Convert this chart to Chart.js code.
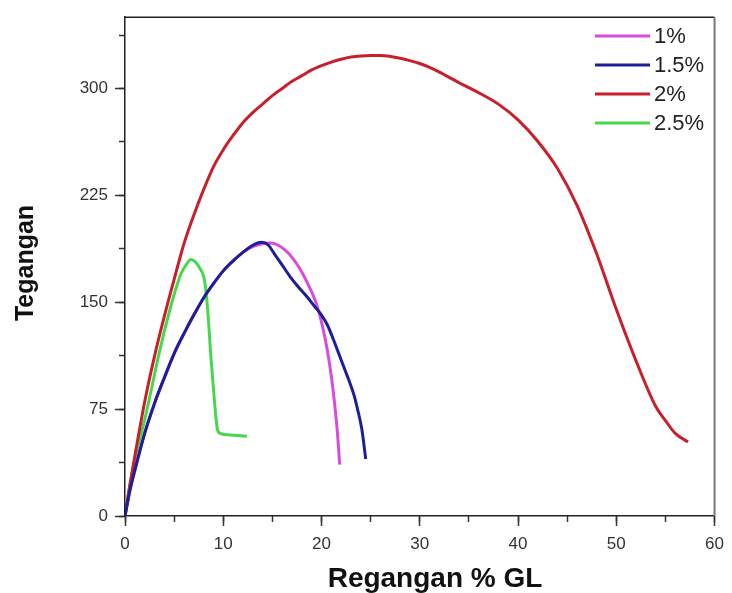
<!DOCTYPE html>
<html>
<head>
<meta charset="utf-8">
<script src="https://cdn.jsdelivr.net/npm/chart.js@4.4.1/dist/chart.umd.min.js"></script>
<style>
    html, body { margin: 0; padding: 0; background: #fff; }
    #wrap { width: 732px; height: 593px; position: relative; }
</style>
</head>
<body>
<div id="wrap"><canvas id="chart"></canvas></div>
<script>
// данные (деформация %, напряжение)
const seriesLabels = ['1%', '1.5%', '2%', '2.5%'];
const seriesColors = ['#d94bdc', '#1c1f98', '#c8202a', '#45d84a'];

const strain1 = [0, 0.5, 1, 2, 3, 4, 5, 6, 7, 8, 9, 10, 11, 12, 13, 14, 14.8, 15.6, 16.3, 17, 17.8, 18.6, 19.2, 19.7, 20.2, 20.6, 21, 21.3, 21.6, 21.85];
const stress1 = [0, 18, 32, 58, 79, 97, 114, 128, 141, 153, 163, 172, 179, 185, 189, 191, 191.5, 190, 186.5, 181.5, 173.5, 163, 154, 144, 130, 116, 98, 81, 60, 36];

const strain15 = [0, 0.5, 1, 2, 3, 4, 5, 6, 7, 8, 9, 10, 11, 12, 13, 13.9, 14.6, 15.2, 16, 16.8, 17.6, 18.5, 19.3, 20, 20.6, 21.2, 21.7, 22.3, 22.8, 23.3, 23.7, 24.1, 24.5];
const stress15 = [0, 18, 32, 58, 79, 97, 114, 128, 141, 153, 163, 172, 179, 185, 190, 192, 190, 184, 176, 168, 161, 154, 147, 141, 134, 124, 115, 104, 95, 85, 74, 61, 40];

const strain2 = [0, 0.5, 1, 2, 3, 4, 5, 6, 7, 8, 9, 10, 11, 12, 13, 14, 15, 16, 17, 18, 19, 20, 21, 22, 23, 24, 25, 26, 27, 28, 29, 30, 31, 32, 34, 36, 38, 40, 42, 44, 46, 48, 50, 52, 54, 55, 56, 57.3];
const stress2 = [0, 22, 42, 80, 112, 140, 166, 191, 211, 229, 245, 257, 267, 276, 283, 289, 295, 300, 305, 309, 313, 316, 318.5, 320.5, 322, 322.8, 323.2, 323.2, 322.5, 321.2, 319.5, 317.5, 314.8, 311.5, 304, 297, 289, 278, 263, 244, 218, 184, 145, 109, 77, 67, 58, 52];

const strain25 = [0, 0.5, 1, 1.85, 2.5, 3.5, 4.5, 5.2, 5.7, 6.2, 6.7, 7.2, 7.6, 8.1, 8.4, 8.75, 9.1, 9.4, 9.7, 10.5, 11.5, 12.4];
const stress25 = [0, 22, 40, 63, 83, 115, 143, 160, 170, 176, 180, 178, 174, 165, 146, 111, 81, 61, 58, 57, 56.5, 56];

const xTitle = 'Regangan % GL';
const yTitle = 'Tegangan';
const xMax = 60;
const yMax = 350;

const allStrain = [strain1, strain15, strain2, strain25];
const allStress = [stress1, stress15, stress2, stress25];
const drawOrder = [2, 0, 1, 3]; // синий поверх розового

const tickFont = { family: '"Liberation Sans", Arial, sans-serif', size: 17 };

function toPoints(xs, ys) {
    return xs.map((x, i) => ({ x: x, y: ys[i] }));
}

// рамка, подписи осей и легенда
const decorPlugin = {
    id: 'decor',
    afterDraw(chart) {
        const ctx = chart.ctx;
        const a = chart.chartArea;
        ctx.save();
        ctx.lineWidth = 1.5;
        ctx.strokeStyle = '#222';
        ctx.beginPath();
        ctx.moveTo(a.left, a.top);
        ctx.lineTo(a.right, a.top);
        ctx.stroke();
        ctx.lineWidth = 2;
        ctx.strokeStyle = '#777';
        ctx.beginPath();
        ctx.moveTo(a.right, a.top);
        ctx.lineTo(a.right, a.bottom);
        ctx.stroke();

        ctx.fillStyle = '#111';
        ctx.font = 'bold 28px "Liberation Sans", Arial, sans-serif';
        ctx.textAlign = 'center';
        ctx.textBaseline = 'alphabetic';
        ctx.fillText(xTitle, 435, 587);

        ctx.save();
        ctx.translate(33, 263);
        ctx.rotate(-Math.PI / 2);
        ctx.font = 'bold 25px "Liberation Sans", Arial, sans-serif';
        ctx.fillText(yTitle, 0, 0);
        ctx.restore();

        // легенда
        ctx.font = '22px "Liberation Sans", Arial, sans-serif';
        ctx.textAlign = 'left';
        ctx.textBaseline = 'middle';
        chart.data.datasets.forEach((ds, i) => {
            const y = 36 + i * 29;
            ctx.strokeStyle = ds.borderColor;
            ctx.lineWidth = 3;
            ctx.beginPath();
            ctx.moveTo(595, y);
            ctx.lineTo(650, y);
            ctx.stroke();
            ctx.fillStyle = '#222';
            ctx.fillText(ds.label, 654, y + 1);
        });
        ctx.restore();
    }
};

const datasets = seriesLabels.map((label, i) => ({
    label: label,
    data: toPoints(allStrain[i], allStress[i]),
    borderColor: seriesColors[i],
    backgroundColor: seriesColors[i],
    borderWidth: 3,
    pointRadius: 0,
    cubicInterpolationMode: 'monotone',
    order: drawOrder[i]
}));

new Chart(document.getElementById('chart'), {
    type: 'line',
    data: { datasets: datasets },
    options: {
        responsive: true,
        maintainAspectRatio: false,
        animation: false,
        layout: { padding: { top: 14, right: 12, left: 0, bottom: 0 } },
        plugins: { legend: { display: false }, tooltip: { enabled: false } },
        scales: {
            x: {
                type: 'linear',
                position: 'bottom',
                weight: 1,
                min: 0,
                max: xMax,
                ticks: { stepSize: 10, includeBounds: false, color: '#333', font: tickFont, padding: 8, maxRotation: 0 },
                grid: { drawOnChartArea: false, drawTicks: true, tickLength: 10, color: '#333', tickWidth: 1.5 },
                border: { display: true, color: '#222', width: 1.5 },
                afterFit(scale) { scale.height = 77; }
            },
            xMinor: {
                type: 'linear',
                position: 'bottom',
                weight: 0,
                min: 0,
                max: xMax,
                ticks: { stepSize: 5, includeBounds: false, display: false },
                grid: { drawOnChartArea: false, drawTicks: true, tickLength: 6, color: '#333', tickWidth: 1.5 },
                border: { display: false },
                afterFit(scale) { scale.height = 0; }
            },
            y: {
                type: 'linear',
                position: 'left',
                weight: 1,
                min: 0,
                max: yMax,
                ticks: { stepSize: 75, includeBounds: false, color: '#333', font: tickFont, padding: 7 },
                grid: { drawOnChartArea: false, drawTicks: true, tickLength: 10, color: '#333', tickWidth: 1.5 },
                border: { display: true, color: '#222', width: 1.5 },
                afterFit(scale) { scale.width = 125; }
            },
            yMinor: {
                type: 'linear',
                position: 'left',
                weight: 0,
                min: 0,
                max: yMax,
                ticks: { stepSize: 37.5, includeBounds: false, display: false },
                grid: { drawOnChartArea: false, drawTicks: true, tickLength: 6, color: '#333', tickWidth: 1.5 },
                border: { display: false },
                afterFit(scale) { scale.width = 0; }
            }
        }
    },
    plugins: [decorPlugin]
});
</script>
</body>
</html>
